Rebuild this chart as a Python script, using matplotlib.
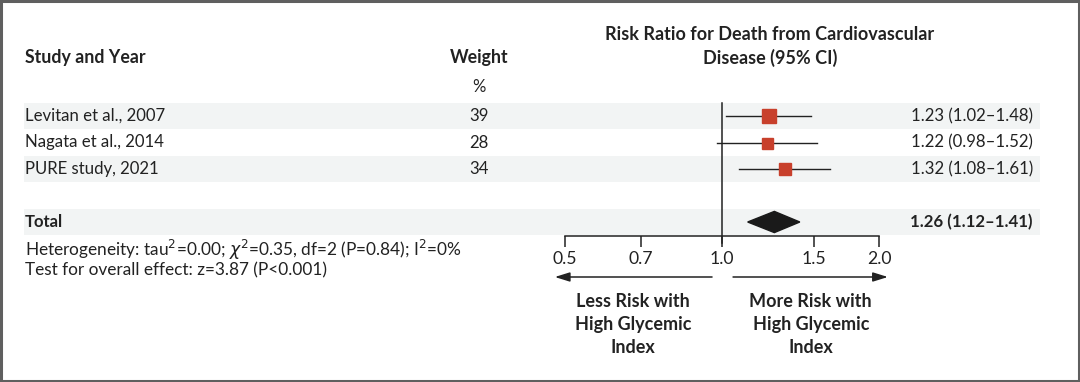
import matplotlib
matplotlib.use('Agg')
import matplotlib.pyplot as plt
import matplotlib.transforms as mtransforms
from matplotlib.patches import Rectangle, Polygon

# data
studies = ['Levitan et al., 2007', 'Nagata et al., 2014', 'PURE study, 2021']
weights = [39, 28, 34]
rr = [1.23, 1.22, 1.32]
lo = [1.02, 0.98, 1.08]
hi = [1.48, 1.52, 1.61]
total_rr, total_lo, total_hi = 1.26, 1.12, 1.41
xticks = [0.5, 0.7, 1.0, 1.5, 2.0]
xticklabels = ['0.5', '0.7', '1.0', '1.5', '2.0']

plt.rcParams['font.family'] = ['Lato', 'DejaVu Sans']
FS = 12.1      # regular text
FSB = 12.8     # bold headers
W, H = 1080, 382
fig = plt.figure(figsize=(W / 100, H / 100), dpi=100)

# axes spans full height; row index i sits at pixel 116 + 26.5*i from top
px0, step = 116, 26.5
ax = fig.add_axes([565 / W, 0, (879 - 565) / W, 1])
ax.set_xscale('log')
ax.set_xlim(0.5, 2.0)
ax.set_ylim((H - px0) / step, -px0 / step)
ax.patch.set_alpha(0)

def row(px):
    return (px - px0) / step

# x in figure pixels, y in data rows
fx = lambda p: p / W
blend = mtransforms.blended_transform_factory(fig.transFigure, ax.transData)

# shaded bands
for yb in [0, 2, 4]:
    ax.add_patch(Rectangle((fx(24), yb - 0.5), fx(1040) - fx(24), 1.0,
                           transform=blend, facecolor='#f2f4f4',
                           edgecolor='none', zorder=0, clip_on=False))

# spines / ticks
for s in ['top', 'right', 'left']:
    ax.spines[s].set_visible(False)
ax.spines['bottom'].set_position(('data', row(235.7)))
ax.spines['bottom'].set_linewidth(1.1)
ax.spines['bottom'].set_color('#222222')
ax.set_yticks([])
ax.set_xticks(xticks)
ax.set_xticklabels(xticklabels)
ax.xaxis.set_minor_locator(matplotlib.ticker.NullLocator())
ax.tick_params(axis='x', direction='out', length=8, width=1.1, color='#222222',
               labelsize=FS + 0.6, pad=3, labelcolor='#222222')

# reference line
ax.plot([1.0, 1.0], [row(103), row(243)], color='#222222', lw=1.1, zorder=2,
        clip_on=False)

# studies
red = '#c8402c'
for i, (m, l, h, w) in enumerate(zip(rr, lo, hi, weights)):
    ax.plot([l, h], [i, i], color='#222222', lw=1.0, zorder=3, clip_on=False)
    ax.plot(m, i, marker='s', ms=4 + w * 0.14, color=red, mec=red, zorder=4,
            clip_on=False)

# total diamond
hd = 0.4
ax.add_patch(Polygon([(total_lo, 4), (total_rr, 4 - hd), (total_hi, 4), (total_rr, 4 + hd)],
                     closed=True, facecolor='#1a1a1a', edgecolor='#1a1a1a', zorder=4))

# arrows
ya = row(277)
arrow = dict(arrowstyle='-|>,head_length=0.9,head_width=0.28', color='#222222',
             lw=1.1, shrinkA=0, shrinkB=0)
ax.annotate('', xy=(0.478, ya), xytext=(0.957, ya), arrowprops=arrow,
            annotation_clip=False)
ax.annotate('', xy=(2.08, ya), xytext=(1.05, ya), arrowprops=arrow,
            annotation_clip=False)
lab = dict(ha='center', va='top', fontsize=FSB + 0.2, fontweight='bold',
           color='#222222', linespacing=1.42)
ax.text(0.675, row(293), 'Less Risk with\nHigh Glycemic\nIndex', **lab)
ax.text(1.48, row(293), 'More Risk with\nHigh Glycemic\nIndex', **lab)

# text columns
txt = dict(transform=blend, color='#222222', va='center')
ax.text(fx(25), row(58), 'Study and Year', fontweight='bold', ha='left', fontsize=FSB, **txt)
ax.text(fx(479), row(58), 'Weight', fontweight='bold', ha='center', fontsize=FSB, **txt)
ax.text(fx(479), row(87), '%', ha='center', fontsize=FS, **txt)
ax.text(fx(770), row(46.5), 'Risk Ratio for Death from Cardiovascular\nDisease (95% CI)',
        fontweight='bold', ha='center', linespacing=1.45, fontsize=FSB + 0.2, **txt)

for i, (s, w, m, l, h) in enumerate(zip(studies, weights, rr, lo, hi)):
    ax.text(fx(25), i, s, ha='left', fontsize=FS, **txt)
    ax.text(fx(479), i, str(w), ha='center', fontsize=FS, **txt)
    ax.text(fx(1033), i, f'{m:.2f} ({l:.2f}\u2013{h:.2f})', ha='right', fontsize=FS, **txt)

ax.text(fx(25), 4, 'Total', fontweight='bold', ha='left', fontsize=FS, **txt)
ax.text(fx(1033), 4, f'{total_rr:.2f} ({total_lo:.2f}\u2013{total_hi:.2f})',
        fontweight='bold', ha='right', fontsize=FS, **txt)
ax.text(fx(25), row(250),
        r'Heterogeneity: tau$^2$=0.00; $\chi^2$=0.35, df=2 (P=0.84); I$^2$=0%',
        ha='left', fontsize=FS + 0.3, **txt)
ax.text(fx(25), row(270), 'Test for overall effect: z=3.87 (P<0.001)', ha='left',
        fontsize=FS + 0.3, **txt)

# frame
fig.patches.append(Rectangle((0.001, 0.002), 0.998, 0.996, transform=fig.transFigure,
                             fill=False, edgecolor='#5f5f5f', lw=2.2))

fig.savefig('out.png', dpi=100)
